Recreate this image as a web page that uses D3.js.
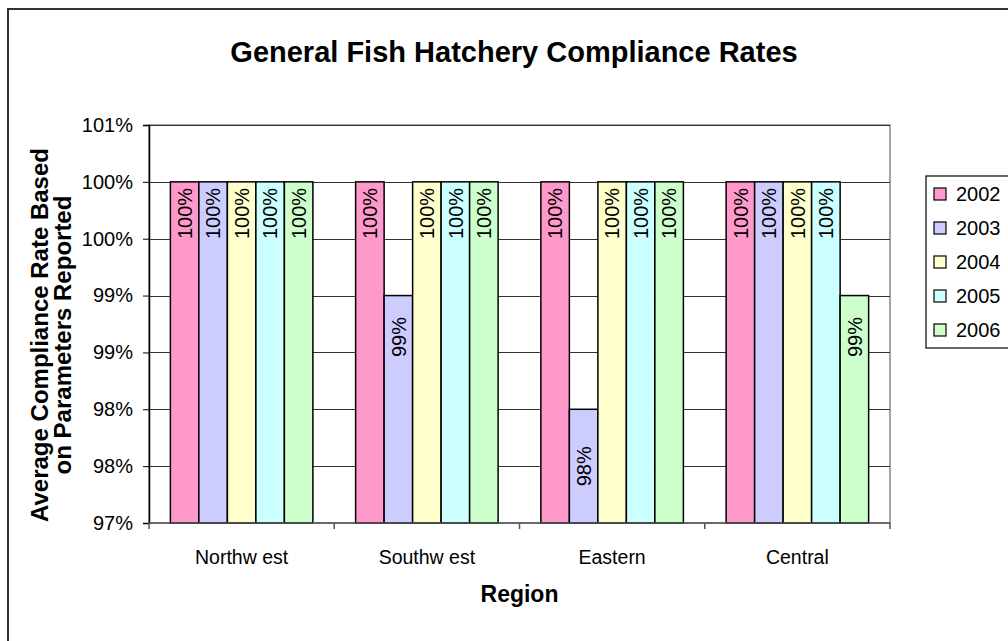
<!DOCTYPE html>
<html><head><meta charset="utf-8">
<script src="https://cdn.jsdelivr.net/npm/d3@7"></script>
<style>
html,body{margin:0;padding:0;background:#fff;}
svg text{font-family:"Liberation Sans",Arial,sans-serif;fill:#000;}
</style></head>
<body>
<svg id="chart" width="1008" height="641"></svg>
<script>
const title = "General Fish Hatchery Compliance Rates";
const categories = ["Northw est", "Southw est", "Eastern", "Central"];
const years = ["2002", "2003", "2004", "2005", "2006"];
const values2002 = [100, 100, 100, 100];
const values2003 = [100, 99, 98, 100];
const values2004 = [100, 100, 100, 100];
const values2005 = [100, 100, 100, 100];
const values2006 = [100, 100, 100, 99];
const yTicks = [97, 97.5, 98, 98.5, 99, 99.5, 100, 100.5];
const colors = ["#FF99CC", "#CCCCFF", "#FFFFCC", "#CCFFFF", "#CCFFCC"];
const yTitleLines = ["Average Compliance Rate Based", "on Parameters Reported"];
const xTitle = "Region";

const series = [values2002, values2003, values2004, values2005, values2006];
const svg = d3.select("#chart");

// outer chart border
svg.append("rect").attr("x", 8).attr("y", 9).attr("width", 1020).attr("height", 660)
  .attr("fill", "#fff").attr("stroke", "#333").attr("stroke-width", 2);

const L = 149, R = 890, T = 125, B = 523;
const y = d3.scaleLinear().domain([97, 100.5]).range([B, T]);
const x0 = d3.scaleBand().domain(categories).range([L, R]).padding(0);
const bw = x0.bandwidth();
const gap = bw * 1.5 / 6.5;
const x1 = d3.scaleBand().domain(years).range([gap / 2, bw - gap / 2]).padding(0);

// plot area border
svg.append("rect").attr("x", L).attr("y", T).attr("width", R - L).attr("height", B - T)
  .attr("fill", "#fff").attr("stroke", "#888").attr("stroke-width", 1.5);

// gridlines
svg.append("g").selectAll("line").data(yTicks.filter(d => d > 97)).join("line")
  .attr("x1", L).attr("x2", R).attr("y1", d => Math.round(y(d)) + 0.5).attr("y2", d => Math.round(y(d)) + 0.5)
  .attr("stroke", "#333").attr("stroke-width", 1.2);

// y axis
const yAxis = d3.axisLeft(y).tickValues(yTicks).tickSize(6).tickPadding(10)
  .tickFormat(d => Math.round(d) + "%");
const ya = svg.append("g").attr("transform", `translate(${L},0)`).call(yAxis);
ya.select(".domain").attr("stroke", "#000").attr("stroke-width", 1.5);
ya.selectAll(".tick line").attr("stroke", "#000");
ya.selectAll("text").style("font-size", "20px").attr("font-family", "Liberation Sans, Arial");

// bars
const groups = svg.append("g").selectAll("g").data(categories).join("g")
  .attr("transform", d => `translate(${x0(d)},0)`);
groups.each(function(cat, ci) {
  const g = d3.select(this);
  years.forEach((yr, si) => {
    const v = series[si][ci];
    g.append("rect").attr("x", x1(yr)).attr("y", y(v)).attr("width", x1.bandwidth())
      .attr("height", y(97) - y(v)).attr("fill", colors[si]).attr("stroke", "#000").attr("stroke-width", 1.5);
    const off = 6 + (100 - v) * 15.5;
    const cx = x1(yr) + x1.bandwidth() / 2;
    const cy = y(v) + off;
    g.append("text").attr("transform", `translate(${cx},${cy}) rotate(-90)`)
      .attr("text-anchor", "end").attr("dy", "0.36em").style("font-size", "20px")
      .text(Math.round(v) + "%");
  });
});

// x axis
const xa = svg.append("g").attr("transform", `translate(0,${B})`);
xa.append("line").attr("x1", L).attr("x2", R).attr("stroke", "#555").attr("stroke-width", 1.5);
xa.selectAll("line.t").data(d3.range(categories.length + 1)).join("line").attr("class", "t")
  .attr("x1", i => L + i * bw).attr("x2", i => L + i * bw).attr("y1", 0).attr("y2", 6)
  .attr("stroke", "#555").attr("stroke-width", 1.5);
xa.selectAll("text").data(categories).join("text")
  .attr("x", d => x0(d) + bw / 2).attr("y", 41).attr("text-anchor", "middle")
  .style("font-size", "19.5px").text(d => d);

// titles
svg.append("text").attr("x", 514).attr("y", 62).attr("text-anchor", "middle")
  .style("font-size", "29px").style("font-weight", "bold").text(title);
svg.append("text").attr("x", (L + R) / 2).attr("y", 602).attr("text-anchor", "middle")
  .style("font-size", "23px").style("font-weight", "bold").text(xTitle);
yTitleLines.forEach((t, i) => {
  svg.append("text").attr("transform", `translate(${48 + i * 23},335) rotate(-90)`)
    .attr("text-anchor", "middle").style("font-size", "24px").style("font-weight", "bold").text(t);
});

// legend
const lg = svg.append("g").attr("transform", "translate(926,176)");
lg.append("rect").attr("x", 0).attr("y", 0).attr("width", 200).attr("height", 172)
  .attr("fill", "#fff").attr("stroke", "#000").attr("stroke-width", 1.2);
years.forEach((yr, i) => {
  const cy = 18 + i * 34;
  lg.append("rect").attr("x", 8).attr("y", cy - 6).attr("width", 12).attr("height", 12)
    .attr("fill", colors[i]).attr("stroke", "#000").attr("stroke-width", 1.2);
  lg.append("text").attr("x", 30).attr("y", cy).attr("dy", "0.36em").style("font-size", "20px").text(yr);
});
</script>
</body></html>
